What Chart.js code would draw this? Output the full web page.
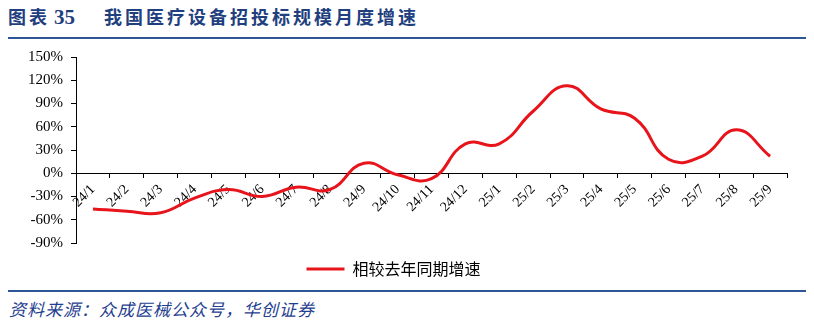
<!DOCTYPE html>
<html>
<head>
<meta charset="utf-8">
<script src="https://cdn.jsdelivr.net/npm/chart.js@4.4.1/dist/chart.umd.min.js"></script>
<style>
  body { margin:0; width:814px; height:321px; background:#fff; position:relative; overflow:hidden; }
  #title { position:absolute; left:8px; top:3px; font-family:"Noto Sans CJK SC"; font-weight:bold; font-size:18px; color:#1F3F7F; letter-spacing:3px; white-space:nowrap; }
  #title b { font-family:"Liberation Serif"; font-size:21px; margin:0 29px 0 4px; letter-spacing:0; }
  .rule { position:absolute; left:8px; width:798px; height:2px; background:#2E5597; }
  #wrap { position:absolute; left:0; top:40px; width:814px; height:247px; }
  #source { position:absolute; left:9px; top:296px; font-family:"Noto Sans CJK SC"; font-style:italic; font-size:17px; color:#1F4090; letter-spacing:1px; white-space:nowrap; }
</style>
</head>
<body>
<div id="title">图表<b>35</b>我国医疗设备招投标规模月度增速</div>
<div class="rule" style="top:37px"></div>
<div id="wrap"><canvas id="myChart"></canvas></div>
<div class="rule" style="top:290px"></div>
<div id="source">资料来源：众成医械公众号，华创证券</div>
<script>
var months = ["24/1","24/2","24/3","24/4","24/5","24/6","24/7","24/8","24/9","24/10","24/11","24/12",
              "25/1","25/2","25/3","25/4","25/5","25/6","25/7","25/8","25/9"];
var growth = [-46, -49, -51, -32, -21, -30, -18, -21, 13, -2, -7, 38,
              38, 80, 113, 83, 71, 18, 22, 56, 22];
var yTicks = [-90, -60, -30, 0, 30, 60, 90, 120, 150];

var serif = "'Liberation Serif', 'Times New Roman', serif";

var ctx = document.getElementById("myChart");
var myChart = new Chart(ctx, {
  type: 'line',
  data: {
    labels: months,
    datasets: [{
      label: '相较去年同期增速',
      data: growth,
      borderColor: '#E8141C',
      backgroundColor: '#E8141C',
      borderWidth: 3,
      pointRadius: 0,
      tension: 0.45
    }]
  },
  options: {
    responsive: true,
    maintainAspectRatio: false,
    animation: false,
    layout: { padding: { top: 15, right: 27, left: 0, bottom: 0 } },
    plugins: {
      tooltip: { enabled: false },
      legend: {
        position: 'bottom',
        labels: {
          boxWidth: 38,
          boxHeight: 0,
          padding: 18,
          color: '#000',
          font: { family: "'Noto Sans CJK SC'", size: 16 }
        }
      }
    },
    scales: {
      x: {
        position: { y: 0 },
        offset: true,
        grid: { display: true, drawOnChartArea: false, drawTicks: true, tickLength: 4, color: '#000', offset: true },
        border: { color: '#000', width: 1 },
        ticks: {
          autoSkip: false,
          minRotation: 45,
          maxRotation: 45,
          padding: 4,
          color: '#000',
          font: { family: serif, size: 14 }
        }
      },
      y: {
        min: yTicks[0],
        max: yTicks[yTicks.length - 1],
        afterFit: function (scale) { scale.width = 76; },
        afterBuildTicks: function (scale) {
          scale.ticks = yTicks.map(function (v) { return { value: v }; });
        },
        grid: { display: true, drawOnChartArea: false, drawTicks: true, tickLength: 5, color: '#000' },
        border: { color: '#000', width: 1 },
        ticks: {
          padding: 8,
          color: '#000',
          font: { family: serif, size: 15 },
          callback: function (v) { return v + '%'; }
        }
      }
    }
  }
});
</script>
</body>
</html>
